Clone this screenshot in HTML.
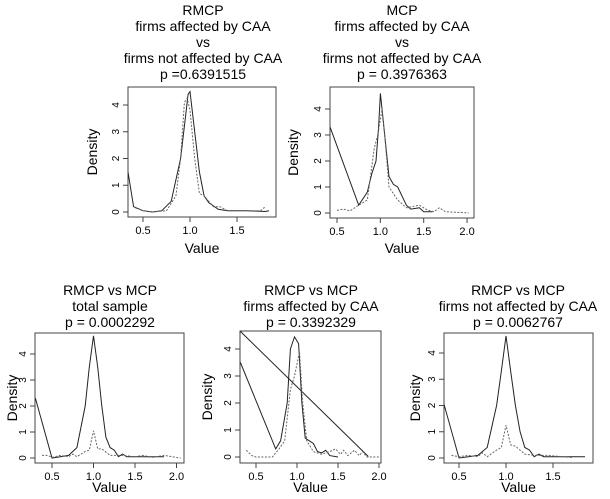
<!DOCTYPE html>
<html><head><meta charset="utf-8"><style>
body{margin:0;background:#fff;}
svg{display:block;font-family:"Liberation Sans",sans-serif;}
</style></head><body>
<svg id="c" width="610" height="499" viewBox="0 0 610 499"></svg>
<script>
// Panel data: [x, density] pairs
const p1Solid=[[0.34,1.5],[0.40,0.2],[0.5,0.05],[0.6,0],[0.7,0.05],[0.8,0.4],[0.9,2.0],[0.95,3.5],[0.98,4.4],[1.0,4.5],[1.05,3.0],[1.1,1.5],[1.15,0.6],[1.2,0.35],[1.3,0.1],[1.4,0.05],[1.6,0.05],[1.8,0.02],[1.84,0.05]];
const p1Dot=[[0.42,0.15],[0.5,0.05],[0.6,0],[0.75,0.05],[0.85,0.6],[0.9,2.0],[0.94,4.1],[0.97,4.25],[1.0,3.8],[1.05,2.0],[1.1,0.7],[1.15,0.6],[1.25,0.2],[1.32,0.2],[1.4,0.05],[1.6,0.05],[1.75,0.05],[1.8,0.2]];
const p2Solid=[[0.42,3.3],[0.75,0.3],[0.85,0.8],[0.9,1.5],[0.95,2.0],[0.98,3.3],[1.0,4.6],[1.05,3.0],[1.1,1.4],[1.15,1.1],[1.2,1.0],[1.3,0.3],[1.35,0.15],[1.45,0.2],[1.5,0.05],[1.6,0.05]];
const p2Dot=[[0.5,0.1],[0.57,0.15],[0.65,0.08],[0.75,0.3],[0.85,0.5],[0.93,2.5],[0.97,3.0],[1.02,4.0],[1.05,3.0],[1.1,1.0],[1.2,0.5],[1.3,0.2],[1.45,0.3],[1.55,0.1],[1.62,0.05],[1.68,0.2],[1.75,0.05],[2.02,0]];
const p3Solid=[[0.3,2.3],[0.5,0],[0.6,0.05],[0.7,0.1],[0.8,0.4],[0.9,2.0],[0.95,3.5],[1.0,4.7],[1.05,3.5],[1.1,2.0],[1.15,0.8],[1.2,0.4],[1.25,0.3],[1.3,0.05],[1.35,0.15],[1.4,0.05],[1.5,0.05],[1.6,0.05],[1.85,0.05]];
const p3Dot=[[0.38,0.1],[0.45,0.1],[0.5,0.02],[0.6,0.1],[0.7,0.05],[0.75,0.15],[0.8,0.05],[0.9,0.25],[0.95,0.3],[1.0,1.05],[1.05,0.35],[1.1,0.35],[1.2,0.1],[1.35,0.1],[1.5,0.05],[1.6,0.1],[1.7,0.02],[1.85,0.1],[2.05,0]];
const p4Solid=[[0.31,3.5],[0.74,0.3],[0.8,0.6],[0.88,2.0],[0.92,4.0],[0.97,4.45],[1.02,4.2],[1.06,2.0],[1.1,0.7],[1.15,0.6],[1.2,0.5],[1.25,0.2],[1.3,0.15],[1.35,0.25],[1.4,0.05],[1.5,0.0]];
const p4Diag=[[0.31,4.65],[1.87,0.02]];
const p4Dot=[[0.38,0.25],[0.45,0.05],[0.5,0],[0.7,0],[0.78,0.3],[0.85,0.6],[0.92,2.5],[0.97,3.0],[1.03,3.9],[1.07,2.0],[1.12,0.6],[1.2,0.2],[1.3,0.1],[1.4,0.2],[1.47,0.3],[1.53,0.1],[1.57,0.25],[1.62,0.05],[1.7,0.25],[1.76,0.05],[1.8,0.2],[1.85,0],[2.0,0]];
const p5Solid=[[0.34,2.05],[0.5,0],[0.6,0.05],[0.7,0.1],[0.8,0.4],[0.9,2.0],[0.95,3.3],[1.0,4.65],[1.05,3.3],[1.1,2.0],[1.15,1.0],[1.2,0.4],[1.25,0.3],[1.3,0.05],[1.35,0.15],[1.4,0.05],[1.6,0.05],[1.84,0.05]];
const p5Dot=[[0.42,0.1],[0.5,0.05],[0.6,0.1],[0.7,0.05],[0.75,0.2],[0.8,0.05],[0.9,0.3],[0.95,0.4],[1.0,1.25],[1.05,0.5],[1.1,0.45],[1.2,0.15],[1.3,0.1],[1.45,0.1],[1.6,0.05],[1.7,0.02]];
const yTicks=[0,1,2,3,4];
const xTicks12=["0.5","1.0","1.5","2.0"];
const xTicks15=["0.5","1.0","1.5"];

const panels=[
 {name:"rmcp-affected-vs-not",L:128,R:276,T:87,B:217,x05:143,ppu:94,y0:212,y4:105,titles:["RMCP","firms affected by CAA","vs","firms not affected by CAA","p =0.6391515"],ty:[10,26,42,58,74],cx:203,dens:97,val:248,xt:xTicks15,series:[[p1Solid,false],[p1Dot,true]]},
 {name:"mcp-affected-vs-not",L:330,R:474,T:87,B:218,x05:337,ppu:86.7,y0:213,y4:109,titles:["MCP","firms affected by CAA","vs","firms not affected by CAA","p = 0.3976363"],ty:[10,26,42,58,74],cx:402,dens:298,val:248,xt:xTicks12,series:[[p2Solid,false],[p2Dot,true]]},
 {name:"rmcp-vs-mcp-total",L:35,R:184,T:333,B:463,x05:52,ppu:83,y0:458,y4:354,titles:["RMCP vs MCP","total sample","p = 0.0002292"],ty:[290,306,322],cx:110,dens:17,val:487,xt:xTicks12,series:[[p3Solid,false],[p3Dot,true]]},
 {name:"rmcp-vs-mcp-affected",L:240,R:381,T:331,B:463,x05:256,ppu:82,y0:457,y4:349,titles:["RMCP vs MCP","firms affected by CAA","p = 0.3392329"],ty:[290,306,322],cx:311,dens:212,val:487,xt:xTicks12,series:[[p4Solid,false],[p4Diag,false],[p4Dot,true]]},
 {name:"rmcp-vs-mcp-not-affected",L:444,R:593,T:333,B:463,x05:459,ppu:94,y0:458,y4:353,titles:["RMCP vs MCP","firms not affected by CAA","p = 0.0062767"],ty:[290,306,322],cx:518,dens:420,val:487,xt:xTicks15,series:[[p5Solid,false],[p5Dot,true]]}
];
const svg=document.getElementById('c');const NS="http://www.w3.org/2000/svg";
function mk(t,a,p){const e=document.createElementNS(NS,t);for(const k in a)e.setAttribute(k,a[k]);(p||svg).appendChild(e);return e;}
panels.forEach((p,pi)=>{
 const g=mk('g',{});
 
 
 const sx=v=>p.x05+(v-0.5)*p.ppu;
 const sy=v=>p.y0-(v)*(p.y0-p.y4)/4;
 p.titles.forEach((t,i)=>{const e=mk('text',{x:p.cx,y:p.ty[i]+5,'font-size':14,'text-anchor':'middle'},g);e.textContent=t;
  
  });
 const box=mk('rect',{x:p.L,y:p.T,width:p.R-p.L,height:p.B-p.T,fill:'none',stroke:'#444','stroke-width':1},g);
 
 
 const cp='cp'+pi;const cl=mk('clipPath',{id:cp},g);mk('rect',{x:p.L,y:p.T,width:p.R-p.L,height:p.B-p.T},cl);
 yTicks.forEach(v=>{const y=sy(v);mk('line',{x1:p.L,x2:p.L-5,y1:y,y2:y,stroke:'#444'},g);
  const t=mk('text',{x:p.L-9,y:y,'font-size':10,'text-anchor':'middle',transform:`rotate(-90 ${p.L-9} ${y})`},g);t.textContent=v;
  
  });
 p.xt.forEach(s=>{const x=sx(parseFloat(s));mk('line',{x1:x,x2:x,y1:p.B,y2:p.B+5,stroke:'#444'},g);
  const t=mk('text',{x:x,y:p.B+17,'font-size':11,'text-anchor':'middle'},g);t.textContent=s;
  
  });
 const yl=mk('text',{x:p.dens,y:(p.T+p.B)/2,'font-size':14,'text-anchor':'middle',transform:`rotate(-90 ${p.dens} ${(p.T+p.B)/2})`},g);yl.textContent='Density';
 
 
 const xl=mk('text',{x:(p.L+p.R)/2,y:p.val+5,'font-size':14,'text-anchor':'middle'},g);xl.textContent='Value';
 
 
 p.series.forEach(([d,dot])=>{const pts=d.map(q=>sx(q[0]).toFixed(1)+','+sy(q[1]).toFixed(1)).join(' ');
  const l=mk('polyline',{points:pts,fill:'none',stroke:dot?'#666':'#222','stroke-width':1,'stroke-dasharray':dot?'2,1.5':'none','clip-path':`url(#${cp})`},g);
  
  });
});
</script>
</body></html>
